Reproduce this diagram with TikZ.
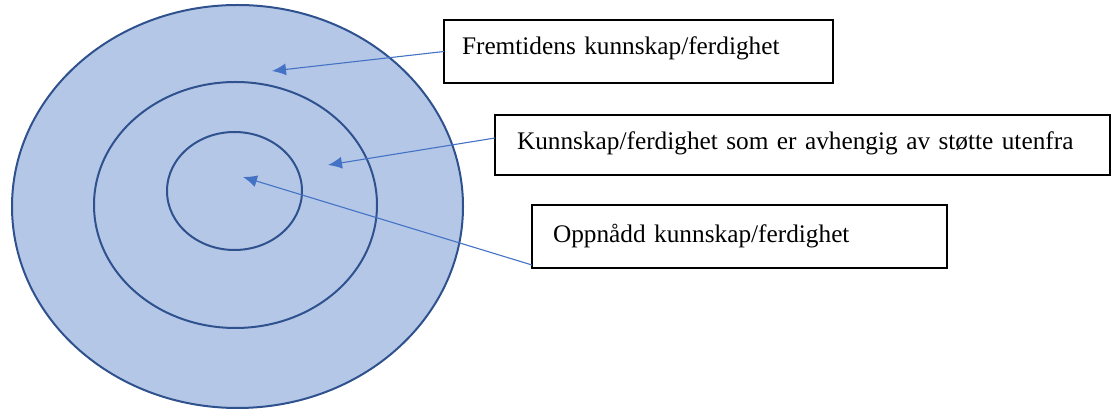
\documentclass[tikz,border=0pt]{standalone}
\usepackage{fontspec}
\setmainfont{Liberation Serif}
\usetikzlibrary{shapes.geometric,arrows.meta}
\definecolor{ringfill}{HTML}{B4C7E7}
\definecolor{ringline}{HTML}{2F528F}
\definecolor{arrowblue}{HTML}{4472C4}
\tikzset{
  ring/.style={ellipse,draw=ringline,line width=1pt,inner sep=0pt,outer sep=0pt},
  labelbox/.style={rectangle,draw=black,line width=1pt,align=left,inner ysep=0pt,outer sep=0pt,
    font=\fontsize{12.65pt}{15pt}\selectfont},
  pointer/.style={draw=arrowblue,line width=0.55pt,-{Latex[length=7pt,width=6pt]}}
}
\begin{document}
\begin{tikzpicture}[x=0.5pt,y=-0.5pt]
\useasboundingbox (0,0) rectangle (1112,410);
\node[ring,fill=ringfill,minimum width=225.5pt,minimum height=201.5pt] (outer) at (237.5,206.5) {};
\node[ring,minimum width=141.5pt,minimum height=123pt] (middle) at (235.5,205) {};
\node[ring,minimum width=67.5pt,minimum height=59pt] (inner) at (234.5,191) {};
% boxes
\node[labelbox,anchor=north west,minimum width=194.5pt,text width=185.5pt-9pt,inner xsep=9pt,
  text height=17.5pt,text depth=14pt] (box1) at (444,20) {Fremtidens kunnskap/ferdighet};
\node[labelbox,anchor=north west,minimum width=307.5pt,text width=307.5pt-22pt,inner xsep=11pt,
  text height=17.5pt,text depth=12.5pt] (box2) at (495,115) {Kunnskap/ferdighet som er avhengig av støtte utenfra};
\node[labelbox,anchor=north west,minimum width=207.5pt,text width=207.5pt-21pt,inner xsep=10.5pt,
  text height=19pt,text depth=12.5pt] (box3) at (532,205) {Oppnådd kunnskap/ferdighet};
% arrow tips
\coordinate (t1) at (272,71);
\coordinate (t2) at (328,165);
\coordinate (t3) at (243,177);
\draw[pointer] (box1.west) -- (t1);
\draw[pointer] ([yshift=3.5pt]box2.west) -- (t2);
\draw[pointer] ([yshift=1.5pt]box3.south west) -- (t3);
\end{tikzpicture}
\end{document}
